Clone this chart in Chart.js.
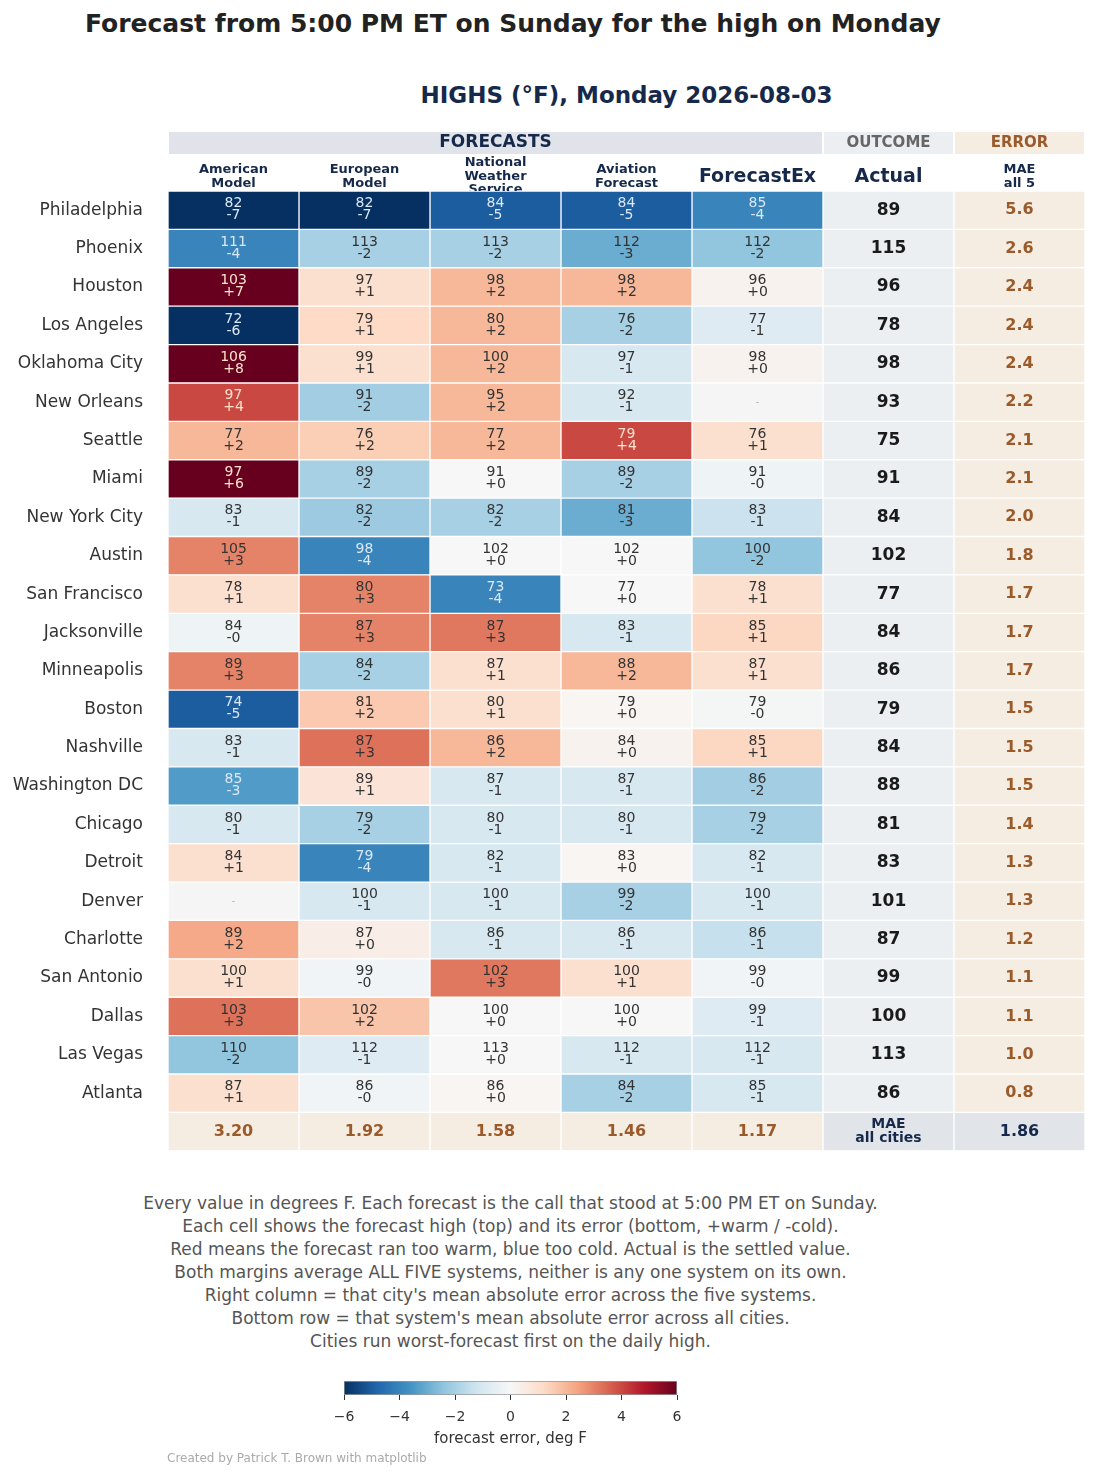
<!DOCTYPE html>
<html>
<head>
<meta charset="utf-8">
<script src="https://cdn.jsdelivr.net/npm/chart.js@4.4.1/dist/chart.umd.min.js"></script>
<style>
  body { margin: 0; width: 1100px; height: 1479px; background: #fff; position: relative; overflow: hidden; font-family: 'DejaVu Sans', sans-serif; }
  #title { position: absolute; left: 85px; top: 9px; font-size: 25px; font-weight: bold; color: #222; white-space: nowrap; }
  #sub { position: absolute; left: 168px; width: 917px; top: 82px; text-align: center; font-size: 23px; font-weight: bold; color: #16294a; }
  #grid { position: absolute; left: 0; top: 0; }
  #notes { position: absolute; left: 0; width: 1021px; top: 1192px; text-align: center; font-size: 17px; line-height: 23px; color: #555; }
  #cbar { position: absolute; left: 0; top: 1370px; }
  #credit { position: absolute; left: 167px; top: 1451px; font-size: 12px; color: #aaa; }
</style>
</head>
<body>
<div id="title">Forecast from 5:00 PM ET on Sunday for the high on Monday</div>
<div id="sub">HIGHS (°F), Monday 2026-08-03</div>
<canvas id="grid" width="1100" height="1186"></canvas>
<div id="notes">
Every value in degrees F. Each forecast is the call that stood at 5:00 PM ET on Sunday.<br>
Each cell shows the forecast high (top) and its error (bottom, +warm / -cold).<br>
Red means the forecast ran too warm, blue too cold. Actual is the settled value.<br>
Both margins average ALL FIVE systems, neither is any one system on its own.<br>
Right column = that city's mean absolute error across the five systems.<br>
Bottom row = that system's mean absolute error across all cities.<br>
Cities run worst-forecast first on the daily high.
</div>
<canvas id="cbar" width="1100" height="85"></canvas>
<div id="credit">Created by Patrick T. Brown with matplotlib</div>
<script>
const cities = ['Philadelphia', 'Phoenix', 'Houston', 'Los Angeles', 'Oklahoma City', 'New Orleans', 'Seattle', 'Miami',
  'New York City', 'Austin', 'San Francisco', 'Jacksonville', 'Minneapolis', 'Boston', 'Nashville', 'Washington DC',
  'Chicago', 'Detroit', 'Denver', 'Charlotte', 'San Antonio', 'Dallas', 'Las Vegas', 'Atlanta'];

// forecast highs (deg F) and their errors vs actual, one pair per system
const americanHigh = [82, 111, 103, 72, 106, 97, 77, 97, 83, 105, 78, 84, 89, 74, 83, 85, 80, 84, null, 89, 100, 103, 110, 87];
const americanErr = [-7, -4, 7, -6, 8, 4, 2, 6, -1, 3, 1, -0.3, 3, -5, -1, -3.4, -1, 1, null, 2.3, 1, 3.3, -2.4, 1];
const europeanHigh = [82, 113, 97, 79, 99, 91, 76, 89, 82, 98, 80, 87, 84, 81, 87, 89, 79, 79, 100, 87, 99, 102, 112, 86];
const europeanErr = [-7, -2, 1, 1.2, 1, -2.1, 1.5, -2, -2.2, -4, 3, 3, -2, 1.6, 3.3, 0.8, -2, -4, -1, 0.4, -0.2, 1.7, -0.8, -0.2];
const nwsHigh = [84, 113, 98, 80, 100, 95, 77, 91, 82, 102, 73, 87, 87, 80, 86, 87, 80, 82, 100, 86, 102, 100, 113, 86];
const nwsErr = [-5, -2, 2, 2, 2, 2, 2, 0, -2, 0, -4, 3.2, 1, 1, 2, -1, -1, -1, -1, -1, 3.2, 0, 0, 0.1];
const aviationHigh = [84, 112, 98, 76, 97, 92, 79, 89, 81, 102, 77, 83, 88, 79, 84, 87, 80, 83, 99, 86, 100, 100, 112, 84];
const aviationErr = [-5, -3, 2, -2, -1, -1, 4, -2, -3, 0, 0, -1, 2, 0.1, 0.2, -1, -1, 0.1, -2, -1, 1, 0, -1, -2];
const forecastExHigh = [85, 112, 96, 77, 98, null, 76, 91, 83, 100, 78, 85, 87, 79, 85, 86, 79, 82, 100, 86, 99, 99, 112, 85];
const forecastExErr = [-4, -2.4, 0.2, -0.8, 0.2, null, 1, -0.3, -1.3, -2.4, 1, 1.3, 1, -0.1, 1.3, -2.1, -2, -1, -1, -1.4, -0.2, -0.8, -1, -1];

const actual = [89, 115, 96, 78, 98, 93, 75, 91, 84, 102, 77, 84, 86, 79, 84, 88, 81, 83, 101, 87, 99, 100, 113, 86];
const cityMae = [5.6, 2.6, 2.4, 2.4, 2.4, 2.2, 2.1, 2.1, 2.0, 1.8, 1.7, 1.7, 1.7, 1.5, 1.5, 1.5, 1.4, 1.3, 1.3, 1.2, 1.1, 1.1, 1.0, 0.8];
const systemMae = [3.20, 1.92, 1.58, 1.46, 1.17];
const allMae = 1.86;

const systemHeaders = [['American', 'Model'], ['European', 'Model'], ['National', 'Weather', 'Service'], ['Aviation', 'Forecast'], ['ForecastEx']];
const highs = [americanHigh, europeanHigh, nwsHigh, aviationHigh, forecastExHigh];
const errs = [americanErr, europeanErr, nwsErr, aviationErr, forecastExErr];

// RdBu_r, -6 .. +6
const rdbu = ['#053061', '#2166ac', '#4393c3', '#92c5de', '#d1e5f0', '#f7f7f7', '#fddbc7', '#f4a582', '#d6604d', '#b2182b', '#67001f'];
const NAVY = '#16294a', BROWN = '#9b5a2a';
const ACTUAL_BG = '#eceff2', MAE_BG = '#f5ece2', BAND_BG = '#e0e4ea';
const FONT = "'DejaVu Sans', sans-serif";

function hex(h) { return [1, 3, 5].map(i => parseInt(h.slice(i, i + 2), 16)); }
function cmap(v) {
  let t = Math.max(0, Math.min(1, (v + 6) / 12)) * (rdbu.length - 1);
  const i = Math.min(rdbu.length - 2, Math.floor(t)), f = t - i;
  const a = hex(rdbu[i]), b = hex(rdbu[i + 1]);
  return 'rgb(' + a.map((c, k) => Math.round(c + (b[k] - c) * f)).join(',') + ')';
}

const rowLabels = cities.concat(['']);

function cellColors(c) {
  return rowLabels.map((_, r) => {
    if (c < 5) {
      if (r === cities.length) return MAE_BG;
      return errs[c][r] === null ? '#f5f5f5' : cmap(errs[c][r]);
    }
    if (c === 5) return r === cities.length ? '#e1e5ea' : ACTUAL_BG;
    return r === cities.length ? '#e1e5ea' : MAE_BG;
  });
}

const datasets = [];
for (let c = 0; c < 7; c++) {
  datasets.push({
    data: rowLabels.map(() => 1),
    backgroundColor: cellColors(c),
    borderColor: '#fff',
    borderWidth: 1,
    borderSkipped: false,
    barPercentage: 1,
    categoryPercentage: 1
  });
}

function fmtErr(e) {
  return (e < 0 ? '-' : '+') + Math.round(Math.abs(e));
}

const headerPlugin = {
  id: 'headers',
  beforeDatasetsDraw(chart) {
    const ctx = chart.ctx, xs = chart.scales.x, top = chart.chartArea.top;
    const px = v => xs.getPixelForValue(v);
    ctx.save();
    // group bands
    const bands = [[0, 5, BAND_BG, 'FORECASTS', NAVY, 17], [5, 6, ACTUAL_BG, 'OUTCOME', '#666', 15], [6, 7, MAE_BG, 'ERROR', BROWN, 15]];
    bands.forEach(([a, b, bg, txt, col, sz]) => {
      ctx.fillStyle = bg;
      ctx.fillRect(px(a) + 1, top - 59, px(b) - px(a) - 2, 22);
      ctx.fillStyle = col;
      ctx.font = 'bold ' + sz + 'px ' + FONT;
      ctx.textAlign = 'center';
      ctx.textBaseline = 'middle';
      ctx.fillText(txt, (px(a) + px(b)) / 2, top - 48);
    });
    // column headers
    const heads = systemHeaders.concat([['Actual'], ['MAE', 'all 5']]);
    heads.forEach((lines, c) => {
      const cx = (px(c) + px(c + 1)) / 2;
      ctx.fillStyle = NAVY;
      if (lines.length === 1) {
        ctx.font = 'bold 19px ' + FONT;
        ctx.fillText(lines[0], cx, top - 14);
      } else {
        ctx.font = 'bold 13px ' + FONT;
        const y0 = lines.length === 3 ? top - 28 : top - 21;
        lines.forEach((l, k) => ctx.fillText(l, cx, y0 + k * 13.5));
      }
    });
    ctx.restore();
  },
  afterDatasetsDraw(chart) {
    const ctx = chart.ctx;
    ctx.save();
    ctx.textAlign = 'center';
    ctx.textBaseline = 'middle';
    chart.data.datasets.forEach((ds, c) => {
      chart.getDatasetMeta(c).data.forEach((bar, r) => {
        const p = bar.getCenterPoint();
        const last = r === cities.length;
        if (c < 5) {
          if (last) {
            ctx.font = 'bold 16px ' + FONT;
            ctx.fillStyle = BROWN;
            ctx.fillText(systemMae[c].toFixed(2), p.x, p.y);
            return;
          }
          const e = errs[c][r];
          if (e === null) {
            ctx.font = '11px ' + FONT;
            ctx.fillStyle = '#bbb';
            ctx.fillText('-', p.x, p.y);
            return;
          }
          const light = Math.abs(e) > 3.35;
          ctx.fillStyle = light ? (e < 0 ? '#dbe9f6' : '#fde3cc') : '#333';
          ctx.font = '14px ' + FONT;
          ctx.fillText(String(highs[c][r]), p.x, p.y - 6.5);
          ctx.fillText(fmtErr(e), p.x, p.y + 5.5);
        } else if (c === 5) {
          ctx.fillStyle = last ? NAVY : '#1a1a1a';
          if (last) {
            ctx.font = 'bold 14px ' + FONT;
            ctx.fillText('MAE', p.x, p.y - 7);
            ctx.fillText('all cities', p.x, p.y + 7);
          } else {
            ctx.font = 'bold 17px ' + FONT;
            ctx.fillText(String(actual[r]), p.x, p.y);
          }
        } else {
          ctx.font = 'bold 16px ' + FONT;
          ctx.fillStyle = last ? NAVY : BROWN;
          ctx.fillText(last ? allMae.toFixed(2) : cityMae[r].toFixed(1), p.x, p.y);
        }
      });
    });
    ctx.restore();
  }
};

new Chart(document.getElementById('grid'), {
  type: 'bar',
  data: { labels: rowLabels, datasets: datasets },
  options: {
    indexAxis: 'y',
    responsive: false,
    animation: false,
    layout: { padding: { top: 191, right: 15, bottom: 10, left: 0 } },
    plugins: { legend: { display: false }, tooltip: { enabled: false } },
    scales: {
      x: { stacked: true, min: 0, max: 7, display: false },
      y: {
        stacked: true,
        grid: { display: false, drawTicks: false },
        border: { display: false },
        ticks: { padding: 25, color: '#333', font: { family: FONT, size: 17 } },
        afterFit: s => { s.width = 168; }
      }
    }
  },
  plugins: [headerPlugin]
});

// colour bar
const cbTicks = [-6, -4, -2, 0, 2, 4, 6];
new Chart(document.getElementById('cbar'), {
  type: 'bar',
  data: {
    labels: [''],
    datasets: [{
      data: [[-6, 6]],
      backgroundColor: ctx => {
        const ch = ctx.chart;
        if (!ch.chartArea) return '#ccc';
        const xs = ch.scales.x;
        const g = ch.ctx.createLinearGradient(xs.getPixelForValue(-6), 0, xs.getPixelForValue(6), 0);
        rdbu.forEach((c, i) => g.addColorStop(i / (rdbu.length - 1), c));
        return g;
      },
      borderColor: '#999',
      borderWidth: 1,
      borderSkipped: false,
      barPercentage: 1,
      categoryPercentage: 1
    }]
  },
  options: {
    indexAxis: 'y',
    responsive: false,
    animation: false,
    layout: { padding: { top: 11, left: 344, right: 423, bottom: 0 } },
    plugins: { legend: { display: false }, tooltip: { enabled: false } },
    scales: {
      x: {
        type: 'linear', min: -6, max: 6,
        afterBuildTicks: s => { s.ticks = cbTicks.map(v => ({ value: v })); },
        grid: { drawOnChartArea: false, tickLength: 5, color: '#333' },
        border: { display: false },
        ticks: { padding: 9, color: '#333', font: { family: FONT, size: 14 }, callback: v => v < 0 ? '\u2212' + Math.abs(v) : String(v) },
        title: { display: true, text: 'forecast error, deg F', color: '#333', font: { family: FONT, size: 15 }, padding: { top: 4, bottom: 7 } },
        afterFit: s => { s.height = 60; }
      },
      y: { display: false }
    }
  }
});
</script>
</body>
</html>
